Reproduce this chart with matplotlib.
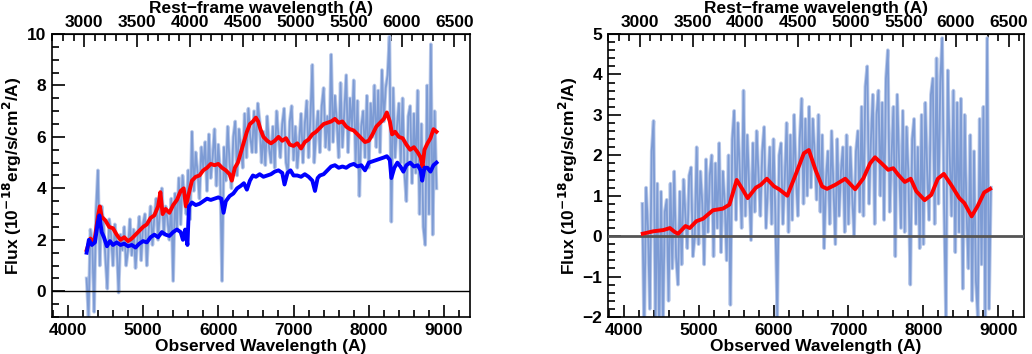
import matplotlib
matplotlib.use("Agg")
import matplotlib.pyplot as plt
from matplotlib.ticker import MultipleLocator
import numpy as np

plt.rcParams['font.family'] = ['Liberation Sans', 'DejaVu Sans']
plt.rcParams['font.weight'] = 'bold'
plt.rcParams['axes.labelweight'] = 'bold'
plt.rcParams['mathtext.default'] = 'bf'

# redshift used for the top axis (observed / rest)
zfac = 1.406

# noisy spectra, sampled every 25 A from 4250 to 8900 A
wl_obs = np.arange(4250, 8901, 25)

total_flux = [
    0.5, -1.0, 2.4, 1.9, -0.8, 3.1, 4.7, 1.0, 3.3, 2.6,
    1.3, 0.1, 2.8, 2.2, 1.0, 2.6, 1.8, -0.05, 2.2, 1.6,
    2.5, 1.0, 1.6, 2.8, 1.4, 2.4, 0.9, 2.0, 2.9, 1.2,
    2.6, 3.0, 1.0, 2.4, 3.3, 1.8, 2.9, 3.6, 2.0, 3.2,
    4.0, 2.2, 3.3, 2.8, 2.0, 3.6, 0.4, 3.8, 2.4, 4.4,
    2.6, 4.5, 3.6, 3.0, 4.7, 2.8, 6.2, 3.9, 5.4, 4.6,
    3.6, 5.6, 4.8, 5.8, 3.9, 6.1, 4.4, 5.2, 6.3, 4.1,
    5.7, 4.6, 0.4, 5.6, 4.3, 6.4, 5.0, 4.0, 6.0, 6.6,
    4.5, 6.3, 5.6, 4.8, 6.9, 5.2, 7.1, 6.0, 5.4, 7.0,
    5.4, 7.3, 6.6, 5.0, 6.2, 4.9, 6.8, 5.6, 5.0, 6.4,
    4.8, 7.0, 6.0, 5.2, 6.5, 7.1, 5.0, 4.6, 6.6, 7.2,
    5.1, 6.4, 4.8, 5.8, 6.9, 5.0, 6.5, 7.4, 5.2, 6.8,
    8.8, 5.0, 6.2, 7.0, 5.4, 7.2, 7.9, 5.6, 6.8, 5.5,
    9.2, 5.8, 7.6, 6.6, 5.2, 8.1, 5.6, 7.0, 8.4, 5.4,
    7.5, 6.3, 8.2, 5.0, 7.4, 3.7, 6.4, 7.0, 5.2, 7.6,
    4.8, 7.3, 6.0, 8.0, 5.6, 7.8, 5.4, 8.6, 6.6, 7.9,
    8.4, 9.9, 2.7, 7.9, 5.2, 6.4, 7.3, 5.0, 7.5, 4.6,
    3.5, 6.8, 7.2, 4.2, 6.9, 4.6, 7.8, 3.0, 6.5, 2.5,
    1.8, 8.0, 3.0, 9.6, 2.2, 7.0, 4.0,
]

resid_flux = [
    0.8, -2.5, 1.2, 0.2, -1.8, 2.1, 2.85, -2.2, 1.3, -2.5,
    1.1, -2.3, 0.6, 0.9, -1.6, 1.3, -0.8, 1.6, -0.5, -1.2,
    1.1, -0.7, 1.4, 0.5, -0.3, 1.5, 1.7, -0.5, 0.0, 2.2,
    -0.2, 1.6, 0.8, -0.7, 1.9, 0.1, 1.5, 2.0, -0.5, 1.8,
    0.2, 2.3, -0.4, 1.6, 0.8, -0.6, 2.0, -1.7, 2.4, 3.1,
    0.4, 2.8, 1.6, 0.2, 3.6, 0.5, 2.5, 1.2, -0.1, 2.3,
    0.6, 2.6, 1.5, 0.5, 2.1, 2.7, 0.2, 1.2, 2.2, 0.3,
    2.4, 0.5, -2.0, 2.0, 2.3, 0.3, 1.4, 2.8, 0.1, 2.5,
    0.4, 3.0, 1.5, 0.5, 2.4, 3.4, 0.8, 2.9, 1.0, 3.2,
    1.2, 2.9, 2.0, 0.9, 3.0, 0.6, 2.5, -0.3, 1.4, 2.1,
    0.3, 2.6, 1.2, -0.2, 2.4, 0.5, 1.6, 2.2, 0.1, 2.5,
    0.3, 2.2, 1.0, 0.0, 2.1, 2.6, 0.6, 3.2, 0.5, 3.7,
    4.2, 0.8, 2.4, 3.5, 0.3, 3.0, 3.6, 1.0, 3.3, 0.4,
    3.9, 4.6, 0.6, 2.0, 3.2, -0.5, 3.5, 1.8, 0.2, 3.1,
    0.1, 2.7, 1.5, -1.2, 2.4, 2.9, 0.3, 2.2, -0.3, 3.0,
    -0.2, 3.3, 1.6, 0.4, 3.5, 3.9, 0.3, 4.4, 0.8, 3.8,
    4.9, 0.8, -2.0, 4.1, 2.0, 0.5, 3.6, -0.4, 3.3, 0.1,
    3.4, -1.3, 3.0, 0.6, -0.8, 2.5, -1.6, 2.1, -1.1, -2.0,
    2.9, -0.7, 3.2, -2.0, 4.9, -1.8, 1.2,
]

# red: smoothed total spectrum (left panel)
red_wl = [4250, 4300, 4350, 4400, 4425, 4450, 4500, 4550, 4600, 4650,
          4700, 4750, 4800, 4850, 4900, 4950, 5000, 5050, 5100, 5150,
          5200, 5230, 5260, 5300, 5350, 5400, 5450, 5500, 5540, 5570,
          5600, 5650, 5700, 5750, 5800, 5850, 5900, 5950, 6000, 6050,
          6100, 6150, 6180, 6220, 6260, 6300, 6340, 6380, 6420, 6460,
          6500, 6530, 6560, 6600, 6650, 6700, 6750, 6800, 6850, 6900,
          6950, 7000, 7050, 7100, 7150, 7200, 7250, 7300, 7350, 7400,
          7450, 7500, 7550, 7600, 7650, 7700, 7750, 7800, 7850, 7900,
          7950, 8000, 8050, 8100, 8150, 8200, 8240, 8280, 8310, 8350,
          8400, 8450, 8500, 8550, 8600, 8650, 8690, 8715, 8740, 8780,
          8820, 8860, 8900]
red_flux = [1.6, 2.05, 1.9, 2.9, 3.3, 2.9, 2.75, 2.5, 2.45, 2.2,
            2.0, 2.1, 1.95, 2.05, 2.2, 2.35, 2.5, 2.6, 2.85, 2.95,
            3.3, 3.85, 3.0, 3.2, 3.05, 3.35, 3.55, 3.9, 4.0, 3.3,
            3.7, 4.3, 4.45, 4.5, 4.7, 4.8, 4.95, 4.9, 4.95, 4.8,
            4.7, 4.55, 4.3, 4.8, 5.0, 5.4, 5.8, 6.2, 6.5, 6.6,
            6.75, 6.6, 6.3, 6.0, 5.85, 5.75, 5.85, 6.0, 5.85, 5.95,
            5.7, 5.65, 5.75, 5.55, 5.8, 5.9, 6.1, 6.2, 6.35, 6.5,
            6.55, 6.6, 6.7, 6.55, 6.6, 6.4, 6.3, 6.25, 6.1, 5.95,
            5.8, 5.85, 6.1, 6.4, 6.55, 6.7, 6.95, 6.6, 6.1, 6.2,
            6.0, 5.95, 5.7, 5.5, 5.6, 5.4, 5.2, 4.85, 5.5, 5.75,
            5.95, 6.3, 6.2]

# blue: host galaxy template (left panel)
blue_wl = [4250, 4280, 4320, 4360, 4400, 4420, 4450, 4480, 4520, 4560,
           4600, 4650, 4700, 4750, 4800, 4850, 4900, 4950, 5000, 5050,
           5100, 5150, 5200, 5250, 5300, 5350, 5400, 5450, 5500, 5530,
           5560, 5590, 5610, 5650, 5700, 5750, 5800, 5850, 5900, 5950,
           6000, 6040, 6070, 6100, 6150, 6200, 6250, 6300, 6340, 6380,
           6420, 6460, 6500, 6550, 6600, 6650, 6700, 6750, 6800, 6850,
           6880, 6920, 6960, 7000, 7050, 7100, 7150, 7200, 7250, 7285,
           7320, 7350, 7400, 7450, 7500, 7550, 7600, 7650, 7700, 7750,
           7800, 7850, 7900, 7950, 8000, 8050, 8100, 8150, 8200, 8240,
           8280, 8300, 8340, 8380, 8420, 8460, 8500, 8550, 8600, 8650,
           8690, 8710, 8740, 8780, 8820, 8860, 8900]
blue_flux = [1.5, 2.0, 1.8, 1.9, 2.7, 2.95, 2.3, 2.1, 1.75, 1.95,
             1.8, 1.9, 1.8, 1.85, 1.75, 1.8, 1.7, 1.85, 1.95, 1.9,
             2.1, 2.2, 2.1, 2.3, 2.2, 2.15, 2.3, 2.4, 2.3, 2.0,
             2.4, 1.8, 3.3, 3.45, 3.35, 3.4, 3.5, 3.6, 3.55, 3.6,
             3.65, 3.6, 3.05, 3.5, 3.7, 3.8, 4.0, 4.1, 4.2, 3.95,
             4.3, 4.5, 4.45, 4.55, 4.45, 4.5, 4.55, 4.65, 4.7, 4.6,
             4.15, 4.6, 4.7, 4.5, 4.5, 4.45, 4.55, 4.45, 4.3, 3.9,
             4.4, 4.5, 4.55, 4.7, 4.85, 4.9, 4.8, 4.85, 4.8, 4.9,
             4.95, 4.85, 4.9, 4.7, 5.0, 5.05, 5.1, 5.15, 5.2, 5.25,
             5.1, 4.4, 4.8, 5.0, 4.85, 4.65, 4.9, 5.0, 4.85, 4.9,
             4.7, 4.3, 4.8, 4.8, 4.65, 4.9, 5.0]

# red: smoothed residual spectrum (right panel)
smooth_wl = [4256, 4397, 4530, 4618, 4684, 4728, 4825, 4883, 4971, 5059,
             5192, 5324, 5412, 5509, 5589, 5655, 5765, 5831, 5911, 6008,
             6074, 6184, 6295, 6405, 6471, 6560, 6648, 6714, 6824, 6957,
             7089, 7199, 7288, 7354, 7442, 7530, 7597, 7663, 7751, 7830,
             7905, 8016, 8104, 8192, 8272, 8369, 8479, 8545, 8643, 8722,
             8810, 8890]
smooth_flux = [0.06, 0.12, 0.15, 0.2, 0.1, 0.06, 0.25, 0.2, 0.37, 0.43,
               0.64, 0.68, 0.78, 1.39, 1.15, 0.94, 1.2, 1.27, 1.42, 1.23,
               1.16, 1.0, 1.52, 2.05, 2.13, 1.64, 1.23, 1.17, 1.27, 1.42,
               1.16, 1.43, 1.8, 1.95, 1.8, 1.64, 1.68, 1.52, 1.34, 1.42,
               1.11, 0.89, 1.02, 1.42, 1.54, 1.27, 0.94, 0.82, 0.49, 0.74,
               1.08, 1.17]

noise_col = '#7d9bd4'
halo_col = '#bccbea'

fig = plt.figure(figsize=(10.32, 3.54), dpi=100)
ax1 = fig.add_axes([0.0504, 0.1045, 0.405, 0.7995])
ax2 = fig.add_axes([0.589, 0.1045, 0.4035, 0.7995])


def style(ax, ylo, yhi, ymaj, ymin):
    ax.set_xlim(3790, 9345)
    ax.set_ylim(ylo, yhi)
    ax.xaxis.set_major_locator(MultipleLocator(1000))
    ax.xaxis.set_minor_locator(MultipleLocator(200))
    ax.yaxis.set_major_locator(MultipleLocator(ymaj))
    ax.yaxis.set_minor_locator(MultipleLocator(ymin))
    ax.tick_params(which='both', direction='in', top=False, right=False,
                   labelsize=12.5, width=1.2, pad=4)
    ax.tick_params(which='major', length=9)
    ax.tick_params(which='minor', length=5)
    for s in ax.spines.values():
        s.set_linewidth(1.2)
    ax.set_xlabel('Observed Wavelength (A)', fontsize=12.5, labelpad=1)
    ax.set_ylabel('Flux (10$^{-18}$erg/s/cm$^{2}$/A)', fontsize=12.5, labelpad=2)
    sec = ax.secondary_xaxis('top', functions=(lambda x: x / zfac, lambda x: x * zfac))
    sec.xaxis.set_major_locator(MultipleLocator(500))
    sec.xaxis.set_minor_locator(MultipleLocator(100))
    sec.tick_params(which='both', direction='in', labelsize=12.5, width=1.2, pad=3)
    sec.tick_params(which='major', length=9)
    sec.tick_params(which='minor', length=5)
    sec.set_xlabel('Rest\u2212frame wavelength (A)', fontsize=12.5, labelpad=1)


# left panel
ax1.plot(wl_obs, total_flux, color=halo_col, lw=2.6, zorder=1)
ax1.plot(wl_obs, total_flux, color=noise_col, lw=1.3, zorder=2)
ax1.axhline(0, color='black', lw=1, zorder=3)
ax1.plot(red_wl, red_flux, color='red', lw=2.8, zorder=4, solid_joinstyle='round')
ax1.plot(blue_wl, blue_flux, color='blue', lw=2.8, zorder=5, solid_joinstyle='round')
style(ax1, -1, 10, 2, 0.5)

# right panel
ax2.plot(wl_obs, resid_flux, color=halo_col, lw=2.6, zorder=1)
ax2.plot(wl_obs, resid_flux, color=noise_col, lw=1.3, zorder=2)
ax2.axhline(0, color='#555555', lw=2, zorder=3)
ax2.plot(smooth_wl, smooth_flux, color='red', lw=2.8, zorder=4, solid_joinstyle='round')
style(ax2, -2, 5, 1, 0.2)

fig.savefig('out.png', dpi=100)
